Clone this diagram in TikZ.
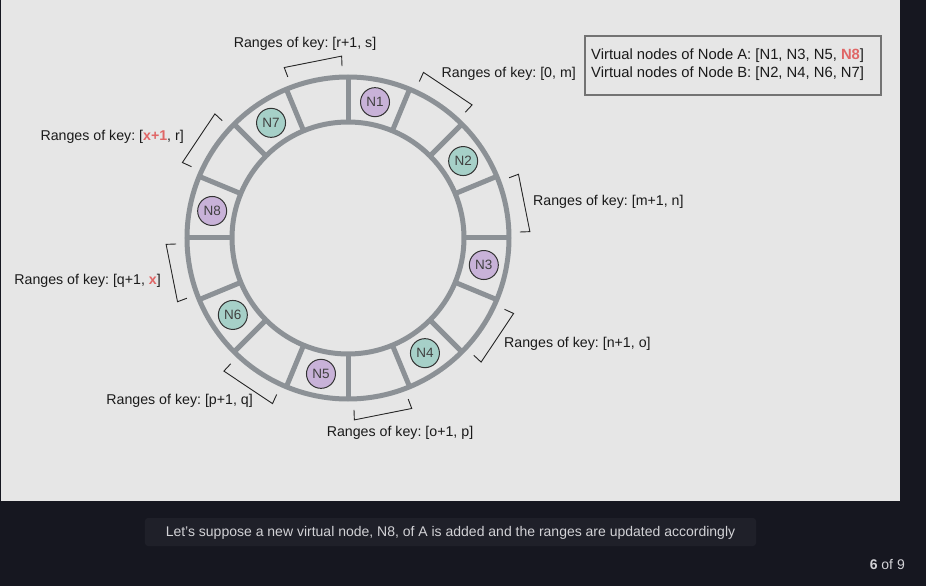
\documentclass[tikz,border=0pt]{standalone}
\usepackage{fontspec}
\setmainfont{Liberation Sans}
\usetikzlibrary{calc}
\frenchspacing
\definecolor{panel}{HTML}{E6E6E6}
\definecolor{darkbg}{HTML}{161720}
\definecolor{capbox}{HTML}{1F2029}
\definecolor{captext}{HTML}{D2D2D6}
\definecolor{ringgray}{HTML}{8C9196}
\definecolor{vpurple}{HTML}{C8B2D8}
\definecolor{vgreen}{HTML}{A6D0C8}
\definecolor{hired}{HTML}{E06666}
\definecolor{txt}{HTML}{1A1A1A}
\tikzset{
  ring/.style={draw=ringgray, line width=5pt},
  vnode/.style={circle, draw=black!80, line width=1pt, minimum size=29pt, inner sep=0pt, font=\fontsize{13.5}{15}\selectfont, text=black!75},
  pnode/.style={vnode, fill=vpurple},
  gnode/.style={vnode, fill=vgreen},
  bracketline/.style={draw=black!85, line width=0.9pt},
  rlabel/.style={font=\fontsize{14.2}{17}\selectfont, text=txt, inner sep=0pt},
  leglabel/.style={font=\fontsize{14.8}{17}\selectfont, text=txt, inner sep=0pt},
  legendbox/.style={draw=black!55, line width=1.2pt, fill=panel}
}
\newcommand{\hl}[1]{\textcolor{hired}{\textbf{#1}}}
\begin{document}
\begin{tikzpicture}[x=1pt,y=1pt]
\useasboundingbox (-348,-348) rectangle (578,238);
\fill[darkbg] (-348,-348) rectangle (578,238);
\fill[panel] (-346.5,-263) rectangle (552,238);
% ring
\draw[ring] (0,0) circle (161);
\draw[ring] (0,0) circle (116);
\foreach \a in {0,22.5,...,337.5}{
  \draw[ring] (\a:116) -- (\a:161);
}
% virtual nodes
\node[pnode] (N1) at (78.75:138.5) {N1};
\node[gnode] (N2) at (33.75:138.5) {N2};
\node[pnode] (N3) at (-11.25:138.5) {N3};
\node[gnode] (N4) at (-56.25:138.5) {N4};
\node[pnode] (N5) at (-101.25:138.5) {N5};
\node[gnode] (N6) at (-146.25:138.5) {N6};
\node[gnode] (N7) at (123.75:138.5) {N7};
\node[pnode] (N8) at (168.75:138.5) {N8};
% brackets over empty segments
\foreach \a in {90,45,0,-45,-90,-135,180,135}{
  \draw[bracketline] ({\a+2}:172) -- ({\a+2}:182) -- ({\a+20.5}:182) -- ({\a+20.5}:172);
}
% range labels
\node[rlabel] (Lrs) at (-43,194.5) {Ranges of key: [r+1, s]};
\node[rlabel, anchor=east] (L0m) at (228,164.5) {Ranges of key: [0, m]};
\node[rlabel, anchor=west] (Lmn) at (185,36.5) {Ranges of key: [m+1, n]};
\node[rlabel, anchor=west] (Lno) at (156,-105.5) {Ranges of key: [n+1, o]};
\node[rlabel] (Lop) at (52,-194.5) {Ranges of key: [o+1, p]};
\node[rlabel, anchor=east] (Lpq) at (-95,-162.5) {Ranges of key: [p+1, q]};
\node[rlabel, anchor=east] (Lqx) at (-187,-42.5) {Ranges of key: [q+1, \hl{x}]};
\node[rlabel, anchor=east] (Lxr) at (-164,101.5) {Ranges of key: [\hl{x+1}, r]};
% legend
\draw[legendbox] (237,202) rectangle (533,143);
\node[leglabel, anchor=west] (LA) at (243,182) {Virtual nodes of Node A: [N1, N3, N5, \hl{N8}]};
\node[leglabel, anchor=west] (LB) at (243,164) {Virtual nodes of Node B: [N2, N4, N6, N7]};
% caption
\fill[capbox, rounded corners=3pt] (-203,-280) rectangle (408,-308);
\node[font=\fontsize{14}{16}\selectfont, text=captext, inner sep=0pt] (cap) at (102.5,-294.5) {Let’s suppose a new virtual node, N8, of A is added and the ranges are updated accordingly};
\node[font=\fontsize{14}{16}\selectfont, text=captext, inner sep=0pt, anchor=east] (pg) at (557,-326) {\textbf{6} of 9};
\end{tikzpicture}
\end{document}
